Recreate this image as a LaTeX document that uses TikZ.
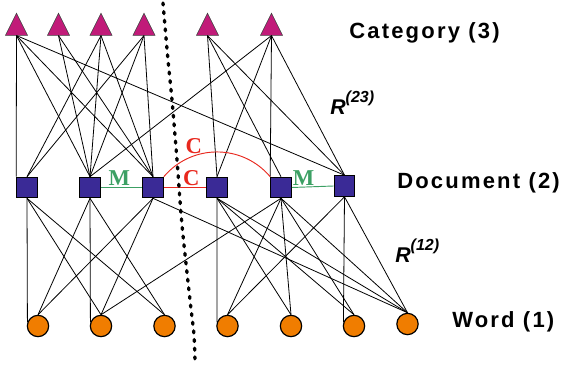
\documentclass[tikz,border=0pt]{standalone}
\usepackage{fontspec}
\usetikzlibrary{shapes.geometric}

\newfontfamily\lblfont{Liberation Sans}[LetterSpace=10]
\newfontfamily\relfont{Liberation Sans}
\newfontfamily\markfont{Liberation Serif}

\definecolor{catcol}{RGB}{193,27,121}
\definecolor{doccol}{RGB}{58,42,150}
\definecolor{wordcol}{RGB}{240,125,0}
\definecolor{mustcol}{RGB}{60,160,100}
\definecolor{cantcol}{RGB}{232,40,30}

\begin{document}
\begin{tikzpicture}[x=0.75pt, y=-0.75pt,
    catnode/.style={isosceles triangle, shape border rotate=90, isosceles triangle stretches,
        minimum width=16.5pt, minimum height=16.5pt, inner sep=0pt, fill=catcol, draw=black!75, line width=0.4pt},
    docnode/.style={rectangle, minimum size=15.5pt, inner sep=0pt, fill=doccol, draw=black, line width=0.7pt},
    wordnode/.style={circle, minimum size=16pt, inner sep=0pt, fill=wordcol, draw=black, line width=0.9pt},
    every edge/.style={draw, line width=0.6pt},
    mustlink/.style={draw=mustcol, line width=0.7pt},
    cantlink/.style={draw=cantcol, line width=0.7pt},
    lbl/.style={anchor=west, inner sep=0pt, font=\lblfont\bfseries\fontsize{16.5}{19}\selectfont},
    linklbl/.style={inner sep=1pt, font=\markfont\bfseries\fontsize{17}{19}\selectfont},
    sepline/.style={line width=2.5pt, line cap=round, dash pattern=on 1.5pt off 5pt}]
\useasboundingbox (0,0) rectangle (565,367);

\node[catnode] (C1) at (16.5,28.5) {};
\node[catnode] (C2) at (58.5,28.5) {};
\node[catnode] (C3) at (101,28.5) {};
\node[catnode] (C4) at (144,28.5) {};
\node[catnode] (C5) at (207.5,28.5) {};
\node[catnode] (C6) at (271.5,28.5) {};

\node[docnode] (D1) at (27,187.5) {};
\node[docnode] (D2) at (90,187.5) {};
\node[docnode] (D3) at (153,187.5) {};
\node[docnode] (D4) at (217,187.5) {};
\node[docnode] (D5) at (281,187.5) {};
\node[docnode] (D6) at (344.5,186) {};

\node[wordnode] (W1) at (38,326) {};
\node[wordnode] (W2) at (101,326) {};
\node[wordnode] (W3) at (164.5,326) {};
\node[wordnode] (W4) at (227.5,326) {};
\node[wordnode] (W5) at (291,326) {};
\node[wordnode] (W6) at (354,326) {};
\node[wordnode] (W7) at (407.5,324) {};

% category -- document
\path (C1.south) edge (D1.north west) edge (D2.north) edge (D3.north) edge (D6.north);
\path (C2.south) edge (D2.north) edge (D3.north);
\path (C3.south) edge (D1.north) edge (D2.north) edge (D3.north);
\path (C4.south) edge (D1.north) edge (D2.north) edge (D3.north);
\path (C5.south) edge (D4.north) edge (D5.north) edge (D6.north);
\path (C6.south) edge (D2.north) edge (D4.north) edge (D5.north west) edge (D6.north);

% document -- word
\path (D1.south) edge (W1.160) edge (W2.north) edge (W3.north);
\path (D2.south) edge (W1.north) edge (W2.160) edge (W3.north);
\path (D3.south) edge (W1.north) edge (W2.north) edge (W7.north);
\path (D4.south) edge (W4.160) edge (W5.north) edge (W6.north) edge (W7.north);
\path (D5.south) edge (W2.north) edge (W4.north) edge (W5.north) edge (W6.north) edge (W7.north);
\path (D6.south) edge (W4.north) edge (W6.160) edge (W7.north);

% must-link / cannot-link
\draw[mustlink] (D2.east) -- node[linklbl, pos=0.45, above, text=mustcol] {M} (D3.west);
\draw[mustlink] (D5.east) -- node[linklbl, pos=0.28, above, text=mustcol] {M} (D6.west);
\draw[cantlink] (D3.east) -- node[linklbl, pos=0.65, above, text=cantcol] {C} (D4.west);
\draw[cantlink] (D3.north east) .. controls +(28,-33) and +(-28,-33) .. node[linklbl, pos=0.3, above, text=cantcol] {C} (D5.north west);

% separating line
\draw[sepline] plot[smooth] coordinates {(163,3) (168,60) (172,100) (177,160) (182,225) (190,300) (194,335) (195,362)};

\node[lbl] (cat) at (349,33) {Category (3)};
\node[lbl] (doc) at (397,183) {Document (2)};
\node[lbl] (word) at (452,322) {Word (1)};

\node[anchor=base west, inner sep=0pt] (R23) at (330,115)
    {\relfont\bfseries\itshape\fontsize{16}{18}\selectfont R\raisebox{9.5pt}{\fontsize{12}{14}\selectfont (23)}};
\node[anchor=base west, inner sep=0pt] (R12) at (395,263)
    {\relfont\bfseries\itshape\fontsize{16}{18}\selectfont R\raisebox{9.5pt}{\fontsize{12}{14}\selectfont (12)}};
\end{tikzpicture}
\end{document}
